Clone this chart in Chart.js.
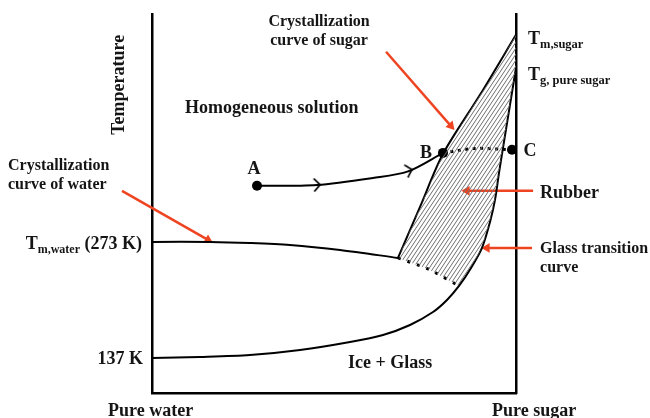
<!DOCTYPE html>
<html>
<head>
<meta charset="utf-8">
<script src="https://cdn.jsdelivr.net/npm/chart.js@4.4.0/dist/chart.umd.min.js"></script>
<style>
  html, body { margin: 0; padding: 0; background: #fff; }
  #wrap { width: 650px; height: 418px; }
</style>
</head>
<body>
<div id="wrap"><canvas id="chart"></canvas></div>
<script>
// x: composition, 0 = pure water .. 100 = pure sugar ; y: temperature (K)
const waterX = [0, 15.93, 26.92, 37.91, 51.65, 67.58];
const waterY = [273, 273, 271.8, 269.5, 263.6, 254.2];

const sugarX = [67.58, 73.63, 79.95, 90.11, 100];
const sugarY = [254.2, 314.0, 376.2, 445.3, 515.7];

const eutX = [67.58, 75.82, 84.34];
const eutY = [254.2, 241.3, 221.4];

const glassX = [0, 13.19, 26.92, 40.66, 54.4, 63.46, 70.88, 77.2, 81.04, 84.34, 87.64, 90.66, 92.86, 94.23, 95.33, 96.43, 98.35, 100];
const glassY = [137, 138.2, 140.5, 146.4, 155.8, 164.0, 175.7, 190.9, 205.0, 221.4, 242.5, 266.0, 296.4, 322.2, 353.9, 383.2, 433.6, 477.0];

const pathX = [28.85, 45.33, 60.71, 70.33, 79.95];
const pathY = [338.7, 339.8, 348.0, 355.6, 377.3];

const bcX = [79.95, 88.74, 98.9];
const bcY = [377.3, 382.5, 380.9];

const markX = [28.85, 79.95, 98.9];   // A, B, C
const markY = [338.7, 377.3, 380.9];

const chevX = [45.33, 70.6];
const chevY = [339.8, 356.8];
const chevAngle = [-3, -16];

// red pointer arrows: [startX, startY, endX, endY]
const arrowSugar = [64.3, 495.8, 82.1, 409.0];
const arrowWater = [-8.24, 332.8, 15.4, 275.3];
const arrowRubber = [104.7, 332.8, 86.5, 332.8];
const arrowGlass = [104.4, 266.0, 92.0, 266.0];

const pts = (xs, ys) => xs.map((x, i) => ({ x, y: ys[i] }));

// rubber region: up the sugar curve, down the glass curve, back along the dotted line
const gStart = glassX.indexOf(eutX[eutX.length - 1]);
const hatchPts = pts(sugarX, sugarY)
  .concat(pts(glassX.slice(gStart), glassY.slice(gStart)).reverse())
  .concat(pts(eutX, eutY).reverse().slice(1));

function hatchPattern() {
  const c = document.createElement("canvas");
  c.width = 4; c.height = 6;
  const g = c.getContext("2d");
  g.strokeStyle = "#6e6e6e";
  g.lineWidth = 1;
  g.beginPath();
  g.moveTo(0, 6); g.lineTo(4, 0);
  g.moveTo(-4, 6); g.lineTo(0, 0);
  g.moveTo(4, 6); g.lineTo(8, 0);
  g.stroke();
  return g.createPattern(c, "repeat");
}

function chevron() {
  const c = document.createElement("canvas");
  c.width = 12; c.height = 16;
  const g = c.getContext("2d");
  g.strokeStyle = "#000";
  g.lineWidth = 1.8;
  g.beginPath();
  g.moveTo(3, 1.5); g.lineTo(9, 8); g.lineTo(3, 14.5);
  g.stroke();
  return c;
}

const RED = "#ee4422";
function arrow(a) {
  return {
    data: [{ x: a[0], y: a[1] }, { x: a[2], y: a[3] }],
    showLine: true,
    borderColor: RED,
    borderWidth: 2.5,
    pointRadius: [0, 5.5],
    pointStyle: "triangle",
    pointBackgroundColor: RED,
    pointBorderWidth: 0,
    pointRotation: (ctx) => {
      const ch = ctx.chart, d = ctx.dataset.data;
      const dx = ch.scales.x.getPixelForValue(d[1].x) - ch.scales.x.getPixelForValue(d[0].x);
      const dy = ch.scales.y.getPixelForValue(d[1].y) - ch.scales.y.getPixelForValue(d[0].y);
      return Math.atan2(dx, -dy) * 180 / Math.PI;
    },
  };
}

const curve = (xs, ys, extra) => Object.assign({
  data: pts(xs, ys),
  showLine: true,
  borderColor: "#000",
  borderWidth: 2,
  pointRadius: 0,
  tension: 0.3,
}, extra || {});

const FONT = '"Liberation Serif", "Times New Roman", serif';
// parts: [text, size, dy]
const textLabels = [
  { parts: [["Temperature", 18]], x: -9.34, y: 457, align: "center", rot: -90 },
  { parts: [["Crystallization", 16]], x: 45.9, y: 532.1, align: "center" },
  { parts: [["curve of sugar", 16]], x: 45.9, y: 509.8, align: "center" },
  { parts: [["Homogeneous solution", 18]], x: 9.07, y: 430.7, align: "left" },
  { parts: [["A", 18]], x: 28.0, y: 359.8, align: "center" },
  { parts: [["B", 18]], x: 75.3, y: 378.5, align: "center" },
  { parts: [["C", 18]], x: 103.85, y: 380.9, align: "center" },
  { parts: [["T", 18], ["m,sugar", 12.5, 4]], x: 103.3, y: 512.2, align: "left" },
  { parts: [["T", 18], ["g, pure sugar", 12.5, 4]], x: 103.3, y: 470.0, align: "left" },
  { parts: [["Rubber", 18]], x: 106.6, y: 331.6, align: "left" },
  { parts: [["Glass transition", 16]], x: 106.6, y: 266.0, align: "left" },
  { parts: [["curve", 16]], x: 106.6, y: 243.7, align: "left" },
  { parts: [["Crystallization", 16]], x: -39.56, y: 363.3, align: "left" },
  { parts: [["curve of water", 16]], x: -39.56, y: 341.0, align: "left" },
  { parts: [["T", 18], ["m,water", 12, 4], [" (273 K)", 18]], x: -2.75, y: 272, align: "right" },
  { parts: [["137 K", 18]], x: -2.5, y: 137, align: "right" },
  { parts: [["Ice + Glass", 18]], x: 53.85, y: 132.3, align: "left" },
  { parts: [["Pure water", 18]], x: -12.09, y: 76, align: "left" },
  { parts: [["Pure sugar", 18]], x: 93.41, y: 76, align: "left" },
];

const textPlugin = {
  id: "texts",
  afterDatasetsDraw(chart) {
    const { ctx, scales: { x, y } } = chart;
    ctx.save();
    ctx.fillStyle = "#151515";
    ctx.textBaseline = "alphabetic";
    ctx.textAlign = "left";
    textLabels.forEach((l) => {
      let w = 0;
      l.parts.forEach(([t, s]) => { ctx.font = `bold ${s}px ${FONT}`; w += ctx.measureText(t).width; });
      ctx.save();
      ctx.translate(x.getPixelForValue(l.x), y.getPixelForValue(l.y));
      if (l.rot) ctx.rotate(l.rot * Math.PI / 180);
      let cx = l.align === "center" ? -w / 2 : l.align === "right" ? -w : 0;
      const base = 0.34 * l.parts[0][1];
      l.parts.forEach(([t, s, dy]) => {
        ctx.font = `bold ${s}px ${FONT}`;
        ctx.fillText(t, cx, base + (dy || 0));
        cx += ctx.measureText(t).width;
      });
      ctx.restore();
    });
    ctx.restore();
  },
};

const axisOpts = {
  type: "linear",
  ticks: { display: false },
  grid: { display: false, drawTicks: false },
  border: { color: "#000", width: 2.5 },
};

new Chart(document.getElementById("chart"), {
  type: "scatter",
  data: {
    datasets: [
      { data: hatchPts, showLine: true, borderWidth: 0, pointRadius: 0, fill: "shape", backgroundColor: hatchPattern(), tension: 0 },
      curve(waterX, waterY),
      curve(sugarX, sugarY),
      curve(glassX, glassY),
      curve(eutX, eutY, { borderWidth: 3, borderDash: [3, 7] }),
      curve(pathX, pathY),
      curve(bcX, bcY, { borderWidth: 3, borderDash: [3, 4.5] }),
      { data: pts(chevX, chevY), pointStyle: chevron(), pointRotation: chevAngle, pointRadius: 6 },
      { data: pts(markX, markY), pointRadius: 5, pointBackgroundColor: "#000", pointBorderWidth: 0 },
      arrow(arrowSugar),
      arrow(arrowWater),
      arrow(arrowRubber),
      arrow(arrowGlass),
    ],
  },
  options: {
    responsive: true,
    maintainAspectRatio: false,
    animation: false,
    datasets: { scatter: { clip: false } },
    layout: { padding: { left: 152, right: 134, top: 14, bottom: 25 } },
    plugins: { legend: { display: false }, tooltip: { enabled: false } },
    scales: {
      x: Object.assign({}, axisOpts, { min: 0, max: 100, afterFit: (s) => { s.height = 0; } }),
      y: Object.assign({}, axisOpts, { min: 96, max: 540, afterFit: (s) => { s.width = 0; } }),
      y2: Object.assign({}, axisOpts, { position: "right", min: 96, max: 540, afterFit: (s) => { s.width = 0; } }),
    },
  },
  plugins: [textPlugin],
});
</script>
</body>
</html>
